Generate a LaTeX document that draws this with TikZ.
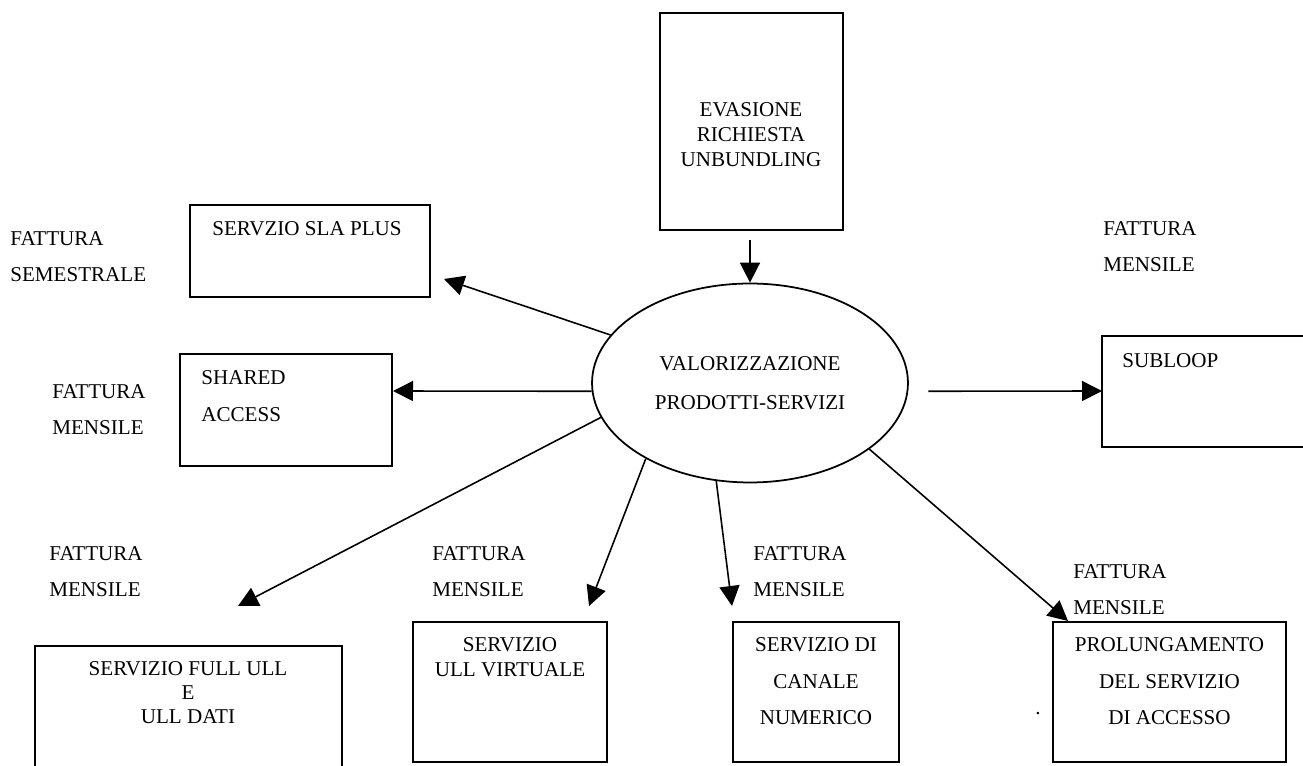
\documentclass[tikz,border=0pt]{standalone}
\usepackage{fontspec}
\setmainfont{Liberation Serif}
\usetikzlibrary{arrows.meta,shapes.geometric,fit}

\begin{document}
\begin{tikzpicture}[x=0.02cm,y=-0.02cm,
  box/.style={draw, line width=1pt, inner sep=0pt},
  txt/.style={inner sep=0pt, align=center, font=\fontsize{12}{14.2}\selectfont},
  fat/.style={inner sep=0pt, align=left, anchor=west, font=\fontsize{12}{20.5}\selectfont},
  arr/.style={-{Triangle[length=0.4cm,width=0.4cm]}, line width=0.9pt}]
\useasboundingbox (0,0) rectangle (1303,766);
% boxes
\node[box, fit={(660,13) (843,230)}] (eva){};
\node[box, fit={(190,205) (430,297)}] (sla){};
\node[box, fit={(180,354) (392,466)}] (shared){};
\node[box, fit={(1102,336) (1330,447)}] (subloop){};
\node[box, fit={(35,646) (342,790)}] (full){};
\node[box, fit={(413,622) (607,762)}] (virt){};
\node[box, fit={(733,622) (899,762)}] (canale){};
\node[box, fit={(1053,622) (1286,762)}] (prol){};
\node[ellipse, draw, line width=1pt, minimum width=6.32cm, minimum height=3.98cm, txt, font=\fontsize{12}{22.2}\selectfont] (val) at (750,383) {VALORIZZAZIONE\\PRODOTTI-SERVIZI};
% box texts
\node[txt] (eva-t) at (751,135) {EVASIONE\\RICHIESTA\\UNBUNDLING};
\node[txt] (sla-t) at (307,229) {SERVZIO SLA PLUS};
\node[txt, anchor=west, align=left, font=\fontsize{12}{21}\selectfont] (shared-t) at (201,396.5) {SHARED\\ACCESS};
\node[txt, anchor=west] (subloop-t) at (1122,361) {SUBLOOP};
\node[txt, font=\fontsize{12}{13.7}\selectfont] (full-t) at (188,693) {SERVIZIO FULL ULL\\E\\ULL DATI};
\node[txt] (virt-t) at (510,657.5) {SERVIZIO\\ULL VIRTUALE};
\node[txt, font=\fontsize{12}{20.8}\selectfont] (canale-t) at (816,681.5) {SERVIZIO DI\\CANALE\\NUMERICO};
\node[txt, font=\fontsize{12}{20.8}\selectfont] (prol-t) at (1169.5,681.5) {PROLUNGAMENTO\\DEL SERVIZIO\\DI ACCESSO};
\node[txt] (dot) at (1038,714) {.};
% fatture
\node[fat] (f-sla) at (10,257) {FATTURA\\SEMESTRALE};
\node[fat] (f-shared) at (52,409.5) {FATTURA\\MENSILE};
\node[fat] (f-subloop) at (1103,246.5) {FATTURA\\MENSILE};
\node[fat] (f-full) at (49,571.5) {FATTURA\\MENSILE};
\node[fat] (f-virt) at (432,571.5) {FATTURA\\MENSILE};
\node[fat] (f-canale) at (753,571.5) {FATTURA\\MENSILE};
\node[fat] (f-prol) at (1073,590) {FATTURA\\MENSILE};
% arrow ends
\coordinate (sla-in) at (444,279);
\coordinate (shared-in) at (393,391);
\coordinate (subloop-in) at (1102,391);
\coordinate (full-in) at (238,606);
\coordinate (virt-in) at (589,606);
\coordinate (canale-in) at (732,606);
\coordinate (prol-in) at (1068,621);
\draw[arr, shorten <=5pt] (eva.south -| val.north) -- (val.north);
\draw[arr] (val.161.5) -- (sla-in);
\draw[arr] (val.183) -- (shared-in);
\draw[arr, shorten <=0.4cm] (val.357) -- (subloop-in);
\draw[arr] (val.193.8) -- (full-in);
\draw[arr] (val.216.8) -- (virt-in);
\draw[arr] (val.251.8) -- (canale-in);
\draw[arr] (val.331) -- (prol-in);
\end{tikzpicture}
\end{document}
